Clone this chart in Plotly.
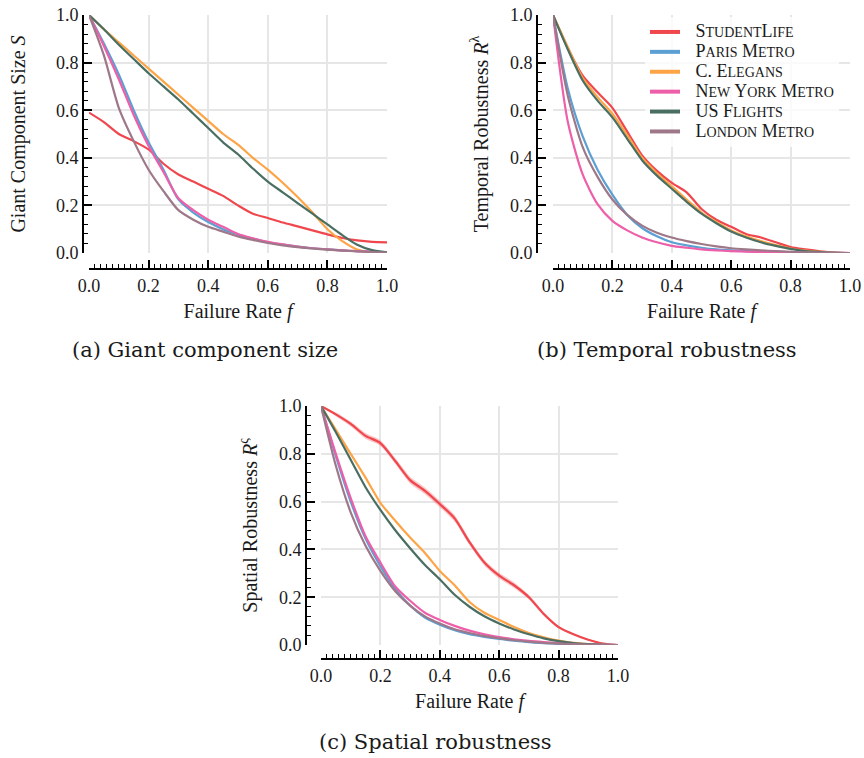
import plotly.graph_objects as go

W, H = 864, 758

f = [round(0.05 * i, 2) for i in range(21)]

names = ["StudentLife", "Paris Metro", "C. Elegans", "New York Metro", "US Flights", "London Metro"]
colors = ["#EF474D", "#5B9FD3", "#FDA446", "#EE5FAA", "#4A6F62", "#9E7889"]

# Panel (a): Giant component size S
a_student = [.59, .55, .50, .47, .435, .375, .33, .30, .27, .24, .20, .165, .147, .128, .112, .095, .078, .063, .053, .047, .045]
a_paris   = [1.0, .88, .75, .60, .465, .35, .225, .17, .13, .10, .078, .06, .045, .035, .027, .02, .015, .011, .008, .005, .003]
a_eleg    = [1.0, .94, .885, .83, .775, .72, .665, .61, .555, .50, .455, .40, .35, .295, .235, .17, .10, .05, .015, .003, 0.0]
a_ny      = [1.0, .87, .73, .58, .45, .34, .23, .18, .14, .11, .08, .062, .047, .036, .027, .02, .015, .011, .008, .005, .003]
a_us      = [1.0, .94, .875, .815, .755, .70, .645, .585, .525, .465, .415, .355, .30, .255, .21, .165, .12, .075, .035, .012, .003]
a_london  = [1.0, .83, .61, .47, .35, .26, .18, .14, .11, .09, .07, .055, .042, .032, .025, .019, .014, .01, .007, .004, .002]

# Panel (b): Temporal robustness
b_student = [1.0, .86, .745, .675, .61, .51, .41, .345, .295, .255, .185, .14, .11, .08, .065, .045, .025, .015, .007, .002, 0.0]
b_paris   = [1.0, .69, .49, .35, .245, .16, .105, .07, .045, .032, .022, .015, .011, .008, .006, .004, .003, .002, .001, .0005, 0.0]
b_eleg    = [1.0, .865, .735, .655, .585, .495, .40, .335, .28, .225, .17, .13, .095, .07, .05, .033, .019, .01, .005, .001, 0.0]
b_ny      = [1.0, .55, .33, .205, .135, .095, .065, .045, .03, .022, .015, .011, .008, .006, .004, .003, .002, .001, .001, 0.0, 0.0]
b_us      = [1.0, .855, .725, .64, .57, .48, .39, .325, .27, .215, .165, .125, .09, .065, .045, .03, .017, .008, .004, .001, 0.0]
b_london  = [1.0, .66, .445, .32, .225, .16, .115, .085, .065, .05, .038, .028, .02, .015, .011, .008, .005, .003, .002, .001, 0.0]

# Panel (c): Spatial robustness
c_student = [1.0, .965, .925, .875, .845, .77, .69, .645, .59, .53, .43, .345, .29, .25, .20, .13, .075, .045, .022, .006, 0.0]
c_student_err = [0.0, .008, .01, .012, .012, .012, .014, .014, .014, .014, .012, .012, .012, .012, .01, .008, .006, .004, .003, .002, 0.0]
c_paris   = [1.0, .79, .60, .445, .33, .235, .165, .115, .085, .062, .045, .034, .025, .018, .012, .008, .005, .003, .002, .001, 0.0]
c_eleg    = [1.0, .90, .80, .70, .595, .52, .45, .385, .31, .25, .18, .135, .105, .075, .05, .032, .018, .009, .004, .001, 0.0]
c_ny      = [1.0, .80, .615, .455, .345, .245, .185, .135, .105, .08, .06, .045, .033, .024, .017, .012, .008, .005, .003, .001, 0.0]
c_us      = [1.0, .89, .775, .66, .565, .48, .405, .335, .275, .21, .16, .12, .09, .065, .045, .028, .016, .008, .004, .001, 0.0]
c_london  = [1.0, .75, .555, .415, .31, .225, .165, .12, .09, .066, .05, .037, .028, .02, .014, .009, .006, .004, .002, .001, 0.0]

x_ticks = [0.0, 0.2, 0.4, 0.6, 0.8, 1.0]
tick_text = ["0.0", "0.2", "0.4", "0.6", "0.8", "1.0"]

panels = [
    dict(data=[a_student, a_paris, a_eleg, a_ny, a_us, a_london],
         ytitle="Giant Component Size <i>S</i>", caption="(a) Giant component size",
         px0=89, px1=387, py0=15, py1=253, yspine=83, xspine=269, capx=205, capy=350, ystand=24),
    dict(data=[b_student, b_paris, b_eleg, b_ny, b_us, b_london],
         ytitle="Temporal Robustness <i>R</i><sup>λ</sup>", caption="(b) Temporal robustness",
         px0=553, px1=850, py0=15, py1=253, yspine=537, xspine=269, capx=667, capy=350, ystand=15),
    dict(data=[c_student, c_paris, c_eleg, c_ny, c_us, c_london],
         ytitle="Spatial Robustness <i>R</i><sup>ς</sup>", caption="(c) Spatial robustness",
         px0=321, px1=618, py0=406, py1=645, yspine=306, xspine=659, capx=435, capy=742, ystand=15),
]

FONT = "Liberation Serif"
CAPFONT = "DejaVu Serif"
TXT = "#1a1a1a"

def small_caps(s):
    out = "<span style='font-size:14px'>\u00a0\u00a0\u00a0</span>"
    for ch in s:
        if ch.islower():
            out += "<span style='font-size:14px'>" + ch.upper() + "</span>"
        else:
            out += "<span style='font-size:18px'>" + ch + "</span>"
    return out

fig = go.Figure()
layout = dict(width=W, height=H, margin=dict(l=0, r=0, t=0, b=0, autoexpand=False),
              paper_bgcolor="white", plot_bgcolor="white", showlegend=True,
              font=dict(family=FONT, color=TXT, size=15))
annotations = []

for i, p in enumerate(panels):
    k = "" if i == 0 else str(i + 1)
    xa, ya = "x" + k, "y" + k
    if i == 2:
        lo = [v - e for v, e in zip(c_student, c_student_err)]
        hi = [v + e for v, e in zip(c_student, c_student_err)]
        fig.add_trace(go.Scatter(x=f, y=lo, mode="lines", line=dict(width=0, shape="spline", smoothing=0.7),
                                 hoverinfo="skip", showlegend=False, xaxis=xa, yaxis=ya))
        fig.add_trace(go.Scatter(x=f, y=hi, mode="lines", line=dict(width=0, shape="spline", smoothing=0.7),
                                 fill="tonexty", fillcolor="rgba(239,71,77,0.3)", hoverinfo="skip",
                                 showlegend=False, xaxis=xa, yaxis=ya))
    for j, ys in enumerate(p["data"]):
        fig.add_trace(go.Scatter(x=f, y=ys, mode="lines", name=names[j],
                                 line=dict(color=colors[j], width=2.2, shape="spline", smoothing=0.7),
                                 showlegend=False, xaxis=xa, yaxis=ya))
    xd = [p["px0"] / W, p["px1"] / W]
    yd = [1 - p["py1"] / H, 1 - p["py0"] / H]
    common = dict(showline=True, linecolor="black", linewidth=2, ticks="inside",
                  ticklen=8, tickwidth=1.6, tickcolor="black", automargin=False,
                  showgrid=True, gridcolor="#E6E6E6", gridwidth=1.5, zeroline=False,
                  range=[0, 1], tickvals=x_ticks, ticktext=tick_text,
                  tickfont=dict(family=FONT, size=18, color=TXT))
    layout["xaxis" + k] = dict(common, domain=xd, anchor="free",
                               position=1 - p["xspine"] / H,
                               minor=dict(dtick=0.02, tick0=0, ticks="inside", ticklen=4,
                                          tickwidth=1, tickcolor="black", showgrid=False),
                               title=dict(text="Failure Rate <i>f</i>", standoff=8,
                                          font=dict(family=FONT, size=20, color=TXT)))
    layout["yaxis" + k] = dict(common, domain=yd, anchor="free",
                               position=p["yspine"] / W,
                               minor=dict(dtick=0.04, tick0=0, ticks="inside", ticklen=4,
                                          tickwidth=1, tickcolor="black", showgrid=False),
                               title=dict(text=p["ytitle"], standoff=p["ystand"],
                                          font=dict(family=FONT, size=20, color=TXT)))
    annotations.append(dict(text=p["caption"], x=p["capx"] / W, y=1 - p["capy"] / H,
                            xref="paper", yref="paper", showarrow=False,
                            xanchor="center", yanchor="middle",
                            font=dict(family=CAPFONT, size=21, color=TXT)))

# Legend entries (thicker lines) in panel (b)
for j in range(6):
    fig.add_trace(go.Scatter(x=[None], y=[None], mode="lines", name=small_caps(names[j]),
                             line=dict(color=colors[j], width=4),
                             showlegend=True, xaxis="x2", yaxis="y2"))

layout["annotations"] = annotations
layout["legend"] = dict(x=645 / W, y=1 - 17 / H, xanchor="left", yanchor="top",
                        bgcolor="rgba(255,255,255,0.8)", borderwidth=0, traceorder="normal",
                        font=dict(family=FONT, size=13, color=TXT),
                        tracegroupgap=0, itemwidth=30)
fig.update_layout(**layout)

fig.write_html("out.html", config={"displayModeBar": False},
               post_script="document.body.style.margin='0';document.body.style.overflow='hidden';")
